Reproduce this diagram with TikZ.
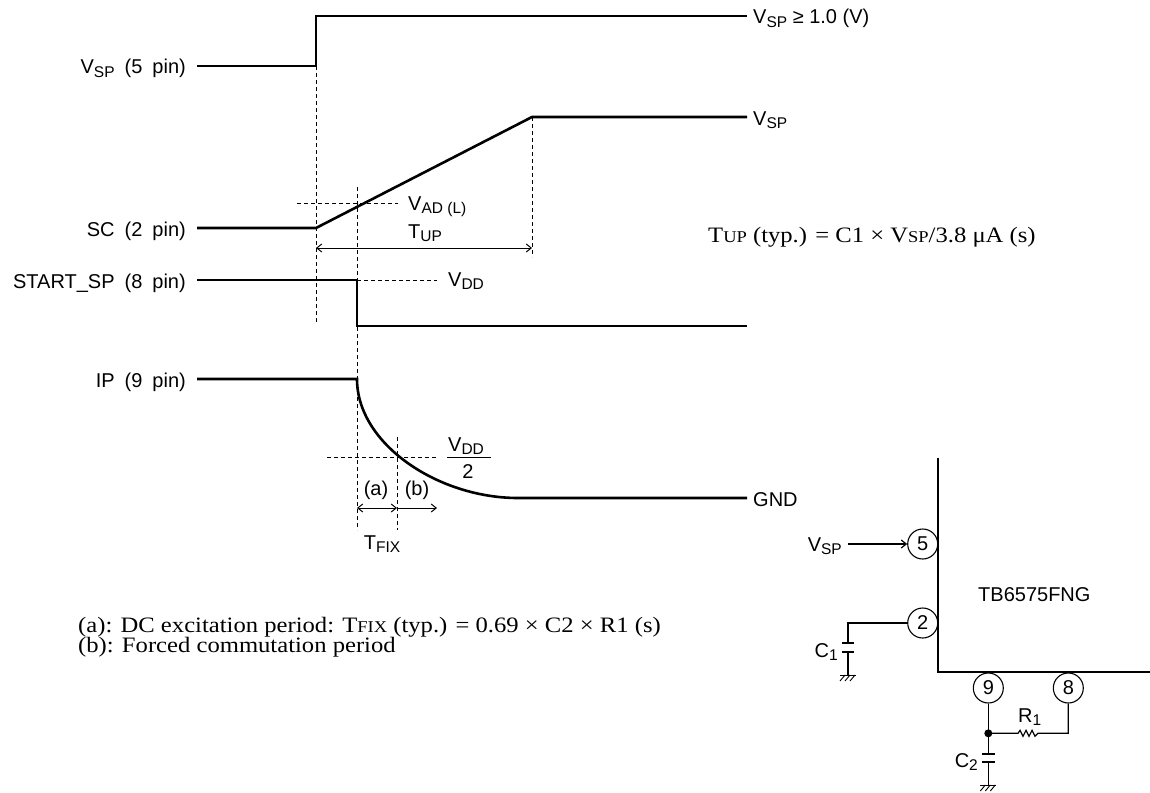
\documentclass[tikz,border=0pt]{standalone}
\usepackage{fontspec}
\setmainfont{Liberation Sans}
\newfontfamily\serifont[FakeStretch=1.12]{Liberation Serif}
\usetikzlibrary{arrows.meta}
\newcommand{\lsub}[1]{\raisebox{-3.8pt}{\fontsize{15.5}{15.5}\selectfont #1}}
\newcommand{\ssc}[1]{{\fontsize{16.5}{16.5}\selectfont #1}}
\newcommand{\wsp}{\hspace{10pt}}
\begin{document}
\begin{tikzpicture}[x=1pt,y=-1pt,
  wave/.style={line width=2.6pt},
  guide/.style={line width=0.9pt, dash pattern=on 4pt off 3pt},
  dim/.style={line width=1pt, {Straight Barb[length=5pt,width=8pt]}-{Straight Barb[length=5pt,width=8pt]}},
  dimr/.style={line width=1pt, -{Straight Barb[length=5pt,width=8pt]}},
  lbl/.style={inner sep=0pt, font=\fontsize{20}{24}\selectfont},
  ser/.style={inner sep=0pt, font=\serifont\fontsize{22}{26}\selectfont},
  icline/.style={line width=2.6pt},
  wire/.style={line width=1.2pt},
  plate/.style={line width=2pt},
  pin/.style={circle, draw, line width=1.1pt, minimum size=30pt, inner sep=0pt, font=\fontsize{20}{24}\selectfont},
  gnd/.pic={\draw[line width=1pt] (-8,0)--(8,0);
    \foreach \gx in {-3,2,7} \draw[line width=0.9pt] (\gx,0) -- (\gx-5,6);}
]
\useasboundingbox (0,0) rectangle (1150,792);

% ---------- guide lines ----------
\draw[guide] (316,66) -- (316,323);
\draw[guide] (357,187) -- (357,530);
\draw[guide] (397,437) -- (397,530);
\draw[guide] (532,117) -- (532,257);
\draw[guide] (297,203) -- (398,203);
\draw[guide] (357,280) -- (437,280);
\draw[guide] (327,457) -- (437,457);

% ---------- waveforms ----------
\coordinate (vsp0) at (197,66);
\coordinate (vsp1) at (316,66);
\coordinate (vsp2) at (316,16);
\coordinate (vsp3) at (747,16);
\draw[wave] (vsp0) -- (vsp1) -- (vsp2) -- (vsp3);

\coordinate (sc0) at (197,228);
\coordinate (sc1) at (316,228);
\coordinate (sc2) at (532,117);
\coordinate (sc3) at (747,117);
\draw[wave] (sc0) -- (sc1) -- (sc2) -- (sc3);

\coordinate (st0) at (197,280);
\coordinate (st1) at (357,280);
\coordinate (st2) at (357,326);
\coordinate (st3) at (747,326);
\draw[wave] (st0) -- (st1) -- (st2) -- (st3);

\coordinate (ip0) at (197,379);
\coordinate (ip1) at (357,379);
\coordinate (ip2) at (518,498);
\coordinate (ip3) at (747,498);
\draw[wave] (ip0) -- (ip1) .. controls (357,444) and (438,498) .. (ip2) -- (ip3);

% ---------- dimension arrows ----------
\coordinate (tupa) at (316,248);
\coordinate (tupb) at (532,248);
\draw[dim] (tupa) -- (tupb);
\coordinate (fa) at (357,508);
\coordinate (fb) at (397,508);
\coordinate (fc) at (437,508);
\draw[dim] (fa) -- (fb);
\draw[dimr] (fb) -- (fc);

% ---------- left labels ----------
\node[lbl, anchor=base east] (lvsp) at (186,74) {V\lsub{SP}\wsp(5\wsp pin)};
\node[lbl, anchor=base east] (lsc) at (186,236) {SC\wsp(2\wsp pin)};
\node[lbl, anchor=base east] (lst) at (186,288) {START\_SP\wsp(8\wsp pin)};
\node[lbl, anchor=base east] (lip) at (186,387) {IP\wsp(9\wsp pin)};

% ---------- right labels ----------
\node[lbl, anchor=base west] (rvsp1) at (753,24) {V\lsub{SP} ≥ 1.0 (V)};
\node[lbl, anchor=base west] (rvsp2) at (753,125) {V\lsub{SP}};
\node[lbl, anchor=base west] (rgnd) at (753,506) {GND};

% ---------- inner labels ----------
\node[lbl, anchor=base west] (vad) at (408,210) {V\lsub{AD (L)}};
\node[lbl, anchor=base west] (tup) at (408,238) {T\lsub{UP}};
\node[lbl, anchor=base west] (vdd) at (448,286) {V\lsub{DD}};
\node[lbl, anchor=base west] (vddn) at (448,451) {V\lsub{DD}};
\draw[line width=1pt] (447,457.5) -- (491,457.5);
\node[lbl, anchor=base] (vddd) at (468,478) {2};
\node[lbl] (la) at (376,490) {(a)};
\node[lbl] (lb) at (417,490) {(b)};
\node[lbl, anchor=base] (tfix) at (382,549) {T\lsub{FIX}};

% ---------- formulas ----------
\node[ser, anchor=base west] (ftup) at (708,242) {T\ssc{UP} (typ.) = C1 × V\ssc{SP}/3.8 μA (s)};
\node[ser, anchor=base west] (fna) at (78,632) {(a): DC excitation period: T\ssc{FIX} (typ.) = 0.69 × C2 × R1 (s)};
\node[ser, anchor=base west] (fnb) at (78,652) {(b): Forced commutation period};

% ---------- circuit ----------
\draw[icline] (938,458) -- (938,672) -- (1150,672);
\node[lbl, anchor=base west] (ic) at (978,601) {TB6575FNG};
\node[pin] (p5) at (922.7,544) {5};
\node[pin] (p2) at (922.7,623) {2};
\node[pin] (p9) at (988.3,688) {9};
\node[pin] (p8) at (1068.3,688) {8};

\node[lbl, anchor=base east] (cvsp) at (842,551) {V\lsub{SP}};
\coordinate (vspin) at (848,544);
\draw[wire, -{Straight Barb[length=5pt,width=8pt]}] (vspin) -- (p5.west);

% C1
\coordinate (c1w) at (848,623);
\coordinate (c1t) at (848,643);
\coordinate (c1b) at (848,652);
\coordinate (c1g) at (848,675);
\draw[wire] (p2.west) -- (c1w) -- (c1t);
\draw[plate] (842,643) -- (854,643);
\draw[plate] (842,652) -- (854,652);
\draw[wire] (c1b) -- (c1g);
\pic at (c1g) {gnd};
\node[lbl, anchor=base east] (lc1) at (838,657) {C\lsub{1}};

% C2 and R1
\coordinate (dot) at (988.3,733.3);
\coordinate (c2t) at (988.3,754);
\coordinate (c2b) at (988.3,762);
\coordinate (c2g) at (988.3,785);
\draw[wire] (p9.south) -- (dot) -- (c2t);
\draw[plate] (982,754) -- (994.6,754);
\draw[plate] (982,762) -- (994.6,762);
\draw[wire] (c2b) -- (c2g);
\pic at (c2g) {gnd};
\fill (dot) circle (4pt);
\node[lbl, anchor=base east] (lc2) at (978,767) {C\lsub{2}};

\coordinate (r1a) at (1018,733.3);
\coordinate (r1b) at (1038,733.3);
\coordinate (r1c) at (1068.3,733.3);
\draw[wire] (dot) -- (r1a) -- ++(2,-3) -- ++(3,6) -- ++(3,-6) -- ++(3,6) -- ++(3,-6) -- ++(3,6) -- (r1b) -- (r1c) -- (p8.south);
\node[lbl, anchor=base west] (lr1) at (1018,722) {R\lsub{1}};
\end{tikzpicture}
\end{document}
